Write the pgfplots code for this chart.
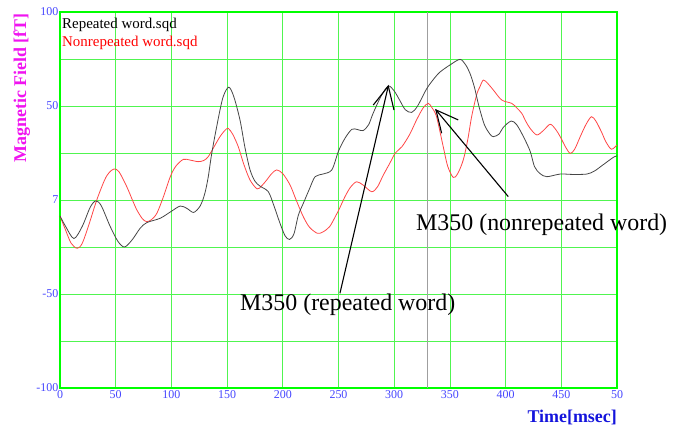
\documentclass[border=0pt]{standalone}
\usepackage{pgfplots}
\pgfplotsset{compat=1.18}
\usepackage{fontspec}
\setmainfont{Liberation Serif}
\definecolor{gridgreen}{RGB}{80,245,80}
\definecolor{framegreen}{RGB}{0,255,0}
\definecolor{tickblue}{RGB}{70,70,255}
\definecolor{labelblue}{RGB}{20,20,220}
\definecolor{curveblack}{RGB}{70,70,70}
\definecolor{curvered}{RGB}{255,70,70}
\definecolor{magentalab}{RGB}{240,20,240}
\begin{document}
\begin{tikzpicture}
\useasboundingbox (0,0) rectangle (683bp,428bp);
\begin{axis}[
  at={(60bp,40bp)}, anchor=south west,
  width=557bp, height=376bp, scale only axis,
  xmin=0, xmax=500, ymin=-100, ymax=100,
  xtick={0,50,...,500},
  xticklabels={0,50,100,150,200,250,300,350,400,450,50},
  ytick={-100,-75,...,100},
  yticklabels={-100,,-50,,7,,50,,100},
  grid=major,
  major grid style={color=gridgreen, line width=0.8bp},
  axis line style={color=framegreen, line width=2bp},
  tick style={draw=none},
  /pgf/number format/assume math mode=true,
  ticklabel style={font=\fontsize{12}{13}\selectfont, text=tickblue},
  xticklabel style={inner sep=1bp, yshift=-1bp},
  yticklabel style={inner sep=1.5bp},
  clip=false,
]
\addplot[color=gray!75, line width=1.3bp] coordinates {(330,-100) (330,100)};
\addplot[color=curvered, line width=0.8bp, smooth, tension=0.5] coordinates {
(0,-8.5) (5,-16) (10,-23) (15.5,-25.7) (20,-23) (26,-13) (33,0) (40,10.6)
(44,14.5) (48.5,16.5) (53,15) (60,7) (65,0) (69,-5.3) (74,-10) (77.8,-11.5)
(82,-10.5) (87,-7) (93,2) (99,12.4) (104,18) (110.7,21.6) (117,21.2) (124,20.4)
(129,21) (133,23) (138,28) (143.6,33.7) (148,37) (151,38.1) (155,35) (160,28.4)
(165,19) (170.6,10.6) (177,5.9) (181,7.5) (185.5,10.6) (190,14) (194.5,16)
(200,14) (206.5,8) (212,0) (218.4,-8.9) (224,-14.5) (231,-17.7) (236,-17)
(242,-14.2) (247,-9) (251.3,-4) (256,2) (261,7) (266.3,9.7) (272,8) (279.8,4.4)
(285,7) (290,13) (296,19.5) (301,25) (307,28.4) (314,35) (320,42.5) (326,49)
(330.6,51.4) (334,49) (338,44.3) (344,28.4) (348,18) (353,12) (357,14)
(362,21.3) (366,32) (369.5,44.3) (374,56) (377,60.3) (380,63.8) (384,62)
(389,58.5) (396.5,53.2) (405.5,51.4) (410,49) (414.5,46.1) (418,42) (422,38.1)
(428,34.6) (434,37) (440,40.3) (445,37.5) (449,33.7) (454,28) (458,24.8)
(462,27) (467,33.7) (472,40) (477,44.3) (481,42) (486,36.3) (490,31) (495,27)
(500,29.3)};
\addplot[color=curveblack, line width=0.8bp, smooth, tension=0.5] coordinates {
(0,-8.5) (5,-14) (12.5,-20.5) (20,-14) (27,-4) (32,-0.5) (37,-3) (45,-14)
(52,-22) (58,-25) (65,-21) (72,-15) (78,-12) (90,-9.7) (100,-6) (108,-3.2)
(114,-4.5) (120,-6.6) (126,-3) (130,3.5) (133,12) (136,24) (140,37) (146,54)
(151.4,60) (156,55) (161.6,42.5) (166,28) (170.6,16) (175,10) (179.5,7.4)
(187,4.4) (192,-3) (197.5,-12.4) (202,-19) (206,-21) (210,-18) (214,-8)
(218.4,-1.8) (224,6) (229,12.4) (236,13.8) (244,16) (250,26) (256,33)
(262,37.6) (267,37.5) (272,36.9) (277,40) (281,46) (288,55) (294.7,60.6)
(300,58) (305,53) (310,48) (315.7,46.6) (321,50) (329,59) (335,64) (341,68)
(350,71.8) (359,74.8) (364,72) (368,67.4) (372,60) (376,50) (381,40) (386,35)
(389,33.7) (394,35) (398,38.7) (405,42) (410,40) (416,33.7) (422,26) (426,17.7)
(431,14) (437,12.4) (449,13.8) (460,13.6) (473,13.8) (480,15.5) (487,18.5)
(497,22.8) (500,23.4)};
% annotation arrows
\draw[black, line width=1.1bp] (axis cs:251.3,-49.6) -- (axis cs:294.7,60.6);
\draw[black, line width=1.1bp] (axis cs:281.2,50.5) -- (axis cs:294.7,60.6) -- (axis cs:299.8,47.9);
\draw[black, line width=1.1bp] (axis cs:402.4,1.8) -- (axis cs:337.5,47.9);
\draw[black, line width=1.1bp] (axis cs:357.5,42.6) -- (axis cs:337.5,47.9) -- (axis cs:342.6,35.5);
\node[anchor=base west, inner sep=0pt, font=\fontsize{24}{26}\selectfont] at (axis cs:161.6,-58.8) {M350 (repeated word)};
\node[anchor=base west, inner sep=0pt, font=\fontsize{24}{26}\selectfont] at (axis cs:319.6,-16) {M350 (nonrepeated word)};
% legend texts
\node[anchor=base west, inner sep=0pt, font=\fontsize{15}{17}\selectfont, text=black] at (axis cs:1.8,91.3) {Repeated word.sqd};
\node[anchor=base west, inner sep=0pt, font=\fontsize{15}{17}\selectfont, text=red] at (axis cs:1.8,81.5) {Nonrepeated word.sqd};
% axis labels
\node[anchor=base east, inner sep=0pt, font=\bfseries\fontsize{18}{20}\selectfont, text=labelblue] at (rel axis cs:1,-0.093) {Time[msec]};
\node[rotate=90, anchor=base, inner sep=0pt, font=\bfseries\fontsize{18}{20}\selectfont, text=magentalab] at (rel axis cs:-0.061,0.798) {Magnetic Field [fT]};
\end{axis}
\end{tikzpicture}
\end{document}
